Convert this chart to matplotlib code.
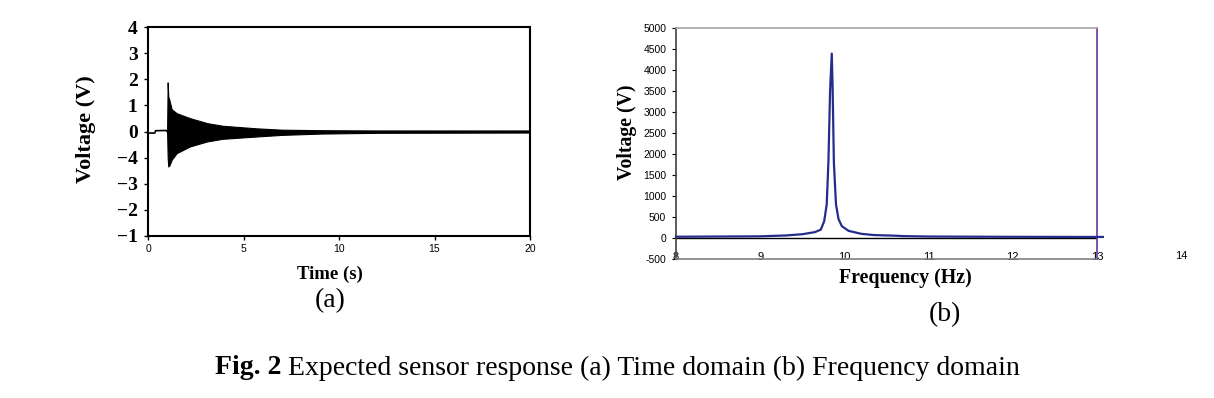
import matplotlib.pyplot as plt

# (a) time domain - pre-trigger trace and decaying envelope
pre_t = [0.0, 0.35, 0.40, 0.95, 1.00]
pre_v = [-0.06, -0.06, 0.03, 0.04, 0.0]

env_t = [1.00, 1.03, 1.06, 1.12, 1.24, 1.5, 2.2, 3.1, 3.9, 5.7, 7.0, 9.0, 12.0, 20.0]
env_hi = [0.0, 1.88, 1.35, 1.20, 0.85, 0.70, 0.51, 0.32, 0.22, 0.12, 0.07, 0.05, 0.04, 0.04]
env_lo = [0.0, -1.00, -1.34, -1.30, -1.08, -0.83, -0.57, -0.38, -0.28, -0.19, -0.13, -0.08, -0.05, -0.04]

a_yticks = [4, 3, 2, 1, 0, -1, -2, -3, -4]
a_ylabels = ['4', '3', '2', '1', '0', '\u22124', '\u22123', '\u22122', '\u22121']
a_xticks = [0, 5, 10, 15, 20]

# (b) frequency domain spectrum
freq = [8.0, 9.0, 9.3, 9.5, 9.65, 9.72, 9.76, 9.79, 9.81, 9.83, 9.85, 9.86,
        9.875, 9.9, 9.93, 9.97, 10.05, 10.2, 10.35, 10.6, 10.7, 11.0, 12.0, 13.07]
amp = [30, 40, 60, 90, 140, 200, 400, 800, 1800, 3500, 4390, 3600,
       1800, 800, 450, 280, 170, 100, 70, 55, 45, 35, 28, 25]

b_yticks = list(range(-500, 5001, 500))
b_xticks = [8, 9, 10, 11, 12, 13]

serif = 'Liberation Serif'
sans = 'Liberation Sans'
W, H = 1214, 398

fig = plt.figure(figsize=(W / 100, H / 100), dpi=100)

# ---- panel (a)
ax1 = fig.add_axes([148 / W, 1 - 236 / H, 382 / W, 209 / H])
ax1.plot(pre_t, pre_v, color='black', lw=1.2)
ax1.fill_between(env_t, env_lo, env_hi, color='black', lw=0.8)
ax1.set_xlim(0, 20)
ax1.set_ylim(-4, 4)
ax1.set_yticks(a_yticks)
ax1.set_yticklabels(a_ylabels, fontfamily=serif, fontweight='bold', fontsize=14)
ax1.set_xticks(a_xticks)
ax1.set_xticklabels([str(v) for v in a_xticks], fontfamily=sans, fontsize=7.5)
ax1.tick_params(axis='both', direction='out', length=3, width=1)
ax1.tick_params(axis='y', pad=4.5)
ax1.tick_params(axis='x', pad=3)
for s in ax1.spines.values():
    s.set_linewidth(1.5)
ax1.set_xlabel('Time (s)', fontfamily=serif, fontweight='bold', fontsize=13.5)
ax1.xaxis.set_label_coords(0.476, -0.142)
ax1.set_ylabel('Voltage (V)', fontfamily=serif, fontweight='bold', fontsize=16)
ax1.yaxis.set_label_coords(-0.137, 0.512)

# ---- panel (b)
ax2 = fig.add_axes([676 / W, 1 - 259 / H, 421 / W, 231 / H])
ax2.axhline(0, color='black', lw=1)
ax2.plot(freq, amp, color='#262C8C', lw=1.6, clip_on=False, zorder=3)
ax2.set_xlim(8, 13)
ax2.set_ylim(-500, 5000)
ax2.set_yticks(b_yticks)
ax2.set_yticklabels([str(v) for v in b_yticks], fontfamily=sans, fontsize=7.5)
ax2.set_xticks(b_xticks)
ax2.set_xticklabels([str(v) for v in b_xticks], fontfamily=sans, fontsize=8)
ax2.tick_params(axis='y', direction='out', length=3, width=0.8, pad=4)
ax2.tick_params(axis='x', length=0, pad=-5)
ax2.text(14, -420, '14', fontfamily=sans, fontsize=8, ha='center', va='center',
         clip_on=False)
ax2.spines['top'].set_color('#A6A6A6')
ax2.spines['left'].set_color('#404040')
ax2.spines['bottom'].set_color('#808080')
ax2.spines['right'].set_color('#7030A0')
for s in ax2.spines.values():
    s.set_linewidth(1.2)
ax2.set_xlabel('Frequency (Hz)', fontfamily=serif, fontweight='bold', fontsize=14.3)
ax2.xaxis.set_label_coords(0.546, -0.04)
ax2.set_ylabel('Voltage (V)', fontfamily=serif, fontweight='bold', fontsize=14.2)
ax2.yaxis.set_label_coords(-0.092, 0.548)

# ---- sub-captions and figure caption
fig.text(330 / W, 1 - 301 / H, '(a)', fontfamily=serif, fontsize=20,
         ha='center', va='center')
fig.text(945 / W, 1 - 315 / H, '(b)', fontfamily=serif, fontsize=20,
         ha='center', va='center')

bold = fig.text(215 / W, 1 - 368 / H, 'Fig. 2 ', fontfamily=serif, fontweight='bold',
                fontsize=20, ha='left', va='center')
renderer = fig.canvas.get_renderer()
bb = bold.get_window_extent(renderer)
fig.text(bb.x1 / W, 1 - 368 / H,
         'Expected sensor response (a) Time domain (b) Frequency domain',
         fontfamily=serif, fontsize=20, ha='left', va='center')

fig.savefig('out.png', dpi=100)
